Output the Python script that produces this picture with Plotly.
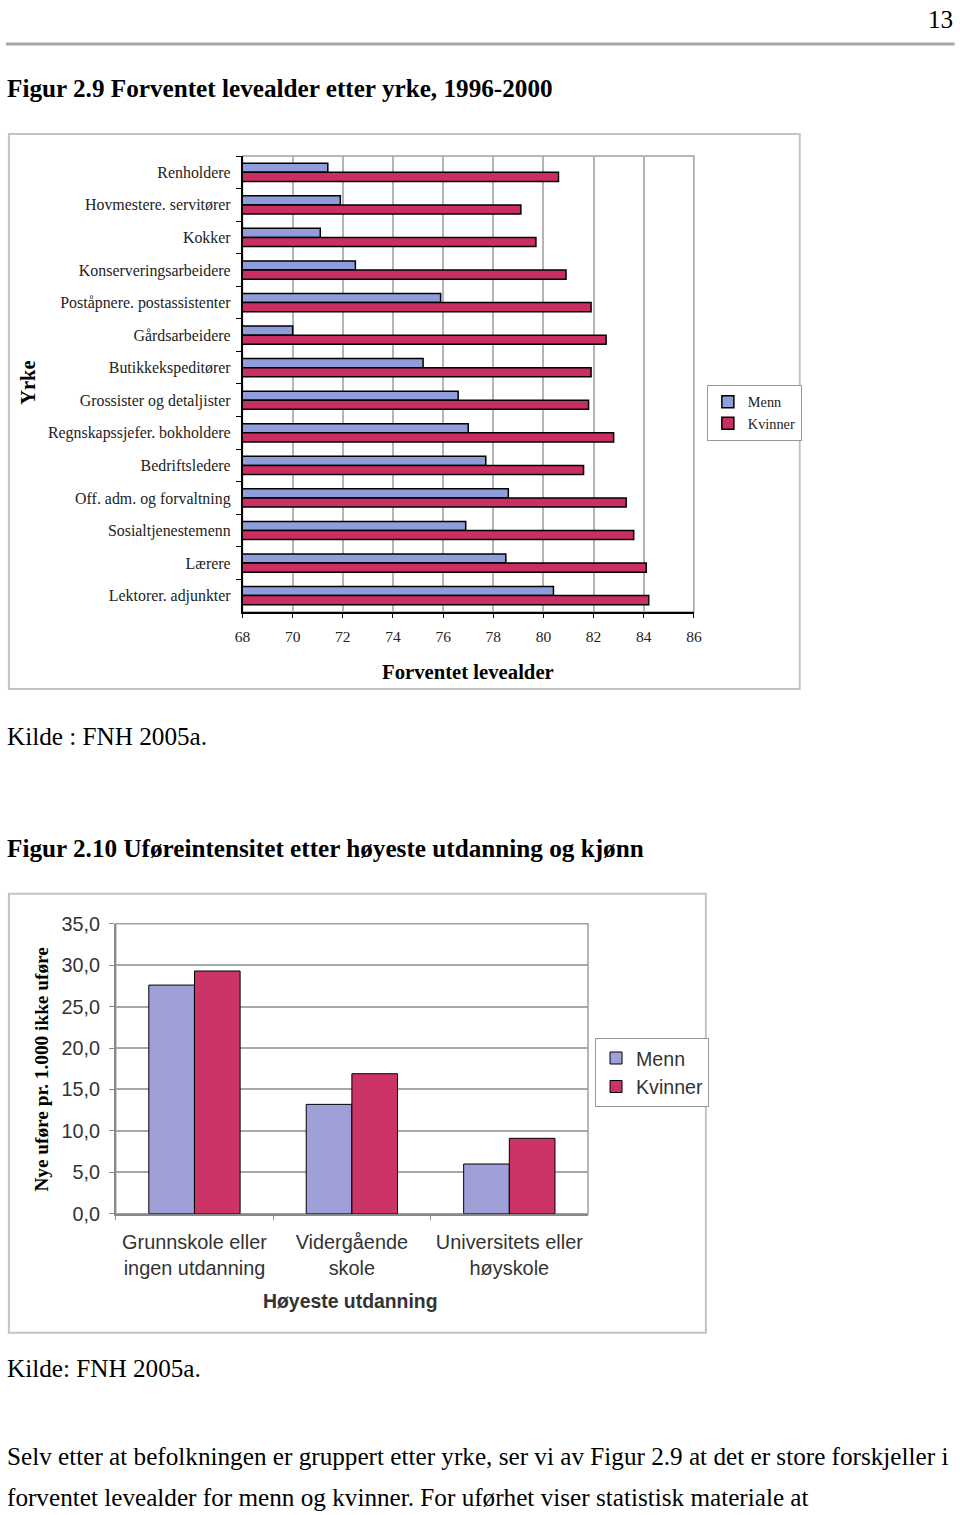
import plotly.graph_objects as go

W, H = 960, 1515

# --- Figur 2.9 data ---
yrker = [
    "Renholdere", "Hovmestere. servitører", "Kokker", "Konserveringsarbeidere",
    "Poståpnere. postassistenter", "Gårdsarbeidere", "Butikkekspeditører",
    "Grossister og detaljister", "Regnskapssjefer. bokholdere", "Bedriftsledere",
    "Off. adm. og forvaltning", "Sosialtjenestemenn", "Lærere", "Lektorer. adjunkter",
]
levealder_menn = [71.4, 71.9, 71.1, 72.5, 75.9, 70.0, 75.2, 76.6, 77.0, 77.7, 78.6, 76.9, 78.5, 80.4]
levealder_kvinner = [80.6, 79.1, 79.7, 80.9, 81.9, 82.5, 81.9, 81.8, 82.8, 81.6, 83.3, 83.6, 84.1, 84.2]

# --- Figur 2.10 data ---
utdanning = ["Grunnskole eller<br>ingen utdanning", "Vidergående<br>skole", "Universitets eller<br>høyskole"]
ufore_menn = [27.6, 13.2, 6.0]
ufore_kvinner = [29.3, 16.9, 9.1]

MENN_1, KVINNER_1 = "#8f9ddb", "#cb2e61"
MENN_2, KVINNER_2 = "#a0a0d8", "#cc3366"
SERIF = "Liberation Serif"
SANS = "Liberation Sans"

# the photographed page comes out slightly shrunk and offset; map target pixels back
AX, BX = 7.1, 0.9848
AY, BY = 9.9, 0.9858


def fx(x):
    return (x - AX) / BX


def fy(y):
    return (y - AY) / BY


def px(x):
    return fx(x) / W


def py(y):
    return 1 - fy(y) / H


fig = go.Figure()

# chart 1: horizontal bars, Menn above Kvinner
fig.add_trace(go.Bar(
    x=levealder_menn, y=yrker, orientation="h", name="Menn",
    width=0.28, offset=-0.28,
    marker=dict(color=MENN_1, line=dict(color="black", width=1.5)),
    xaxis="x", yaxis="y", legend="legend",
))
fig.add_trace(go.Bar(
    x=levealder_kvinner, y=yrker, orientation="h", name="Kvinner",
    width=0.28, offset=0.0,
    marker=dict(color=KVINNER_1, line=dict(color="black", width=1.5)),
    xaxis="x", yaxis="y", legend="legend",
))

# chart 2: vertical bars
fig.add_trace(go.Bar(
    x=utdanning, y=ufore_menn, name="Menn",
    width=0.29, offset=-0.29,
    marker=dict(color=MENN_2, line=dict(color="black", width=1)),
    xaxis="x2", yaxis="y2", legend="legend2",
))
fig.add_trace(go.Bar(
    x=utdanning, y=ufore_kvinner, name="Kvinner",
    width=0.29, offset=0.0,
    marker=dict(color=KVINNER_2, line=dict(color="black", width=1)),
    xaxis="x2", yaxis="y2", legend="legend2",
))

shapes = [
    # page rule
    dict(type="line", xref="paper", yref="paper", x0=px(5), x1=px(955), y0=py(43), y1=py(43),
         line=dict(color="#a8a8a0", width=3)),
    # chart frames
    dict(type="rect", xref="paper", yref="paper", x0=px(8), x1=px(800), y0=py(688), y1=py(133),
         line=dict(color="#c4c4c4", width=2)),
    dict(type="rect", xref="paper", yref="paper", x0=px(8), x1=px(706), y0=py(1332), y1=py(893),
         line=dict(color="#c4c4c4", width=2)),
    # plot area borders
    dict(type="rect", xref="x domain", yref="y domain", x0=0, x1=1, y0=0, y1=1,
         line=dict(color="#a0a0a0", width=1.5), layer="below"),
    dict(type="rect", xref="x2 domain", yref="y2 domain", x0=0, x1=1, y0=0, y1=1,
         line=dict(color="#a0a0a0", width=1.5), layer="below"),
]

annotations = []


def text(x, y, s, size=25.2, bold=False, family=SERIF, color="black", xanchor="left", angle=0):
    if xanchor == "left":
        xf = max(fx(x) - 3, -3)
    elif xanchor == "right":
        xf = min(fx(x) + 3, W + 3)
    else:
        xf = fx(x)
    top = size * 0.36 if angle == 0 else 0
    yf = min(max(fy(y), top), H - 7)
    annotations.append(dict(
        x=xf / W, y=1 - yf / H, xref="paper", yref="paper", showarrow=False,
        text=f"<b>{s}</b>" if bold else s, xanchor=xanchor, yanchor="middle",
        textangle=angle, font=dict(family=family, size=size, color=color),
    ))


text(955, 12, "13", xanchor="right")
text(5, 87, "Figur 2.9 Forventet levealder etter yrke, 1996-2000", bold=True)
text(5, 736, "Kilde : FNH 2005a.")
text(5, 848, "Figur 2.10 Uføreintensitet etter høyeste utdanning og kjønn", bold=True)
text(5, 1368, "Kilde: FNH 2005a.")
text(5, 1456, "Selv etter at befolkningen er gruppert etter yrke, ser vi av Figur 2.9 at det er store forskjeller i")
text(5, 1500, "forventet levealder for menn og kvinner. For uførhet viser statistisk materiale at")

# axis titles
text(468, 671, "Forventet levealder", size=20.7, bold=True, xanchor="center")
text(27, 382, "Yrke", size=20.5, bold=True, xanchor="center", angle=-90)
text(350, 1300, "Høyeste utdanning", size=19.4, bold=True, family=SANS, color="#333333", xanchor="center")
text(41, 1068, "Nye uføre pr. 1.000 ikke uføre", size=19.3, bold=True, xanchor="center", angle=-90)

fig.update_layout(
    width=W, height=H,
    margin=dict(l=0, r=0, t=0, b=0),
    paper_bgcolor="white", plot_bgcolor="white",
    separators=",.",
    barmode="overlay",
    shapes=shapes,
    annotations=annotations,
    xaxis=dict(
        domain=[px(242), px(694)], anchor="y",
        range=[68, 86], dtick=2,
        showgrid=True, gridcolor="#b4b4b4", gridwidth=1.5,
        showline=True, linecolor="black", linewidth=1.5,
        ticks="outside", ticklen=4, tickcolor="black",
        tickfont=dict(family=SERIF, size=15.5, color="#222222"),
        ticklabelstandoff=6, zeroline=False,
    ),
    yaxis=dict(
        domain=[py(611), py(155)], anchor="x",
        autorange="reversed", type="category",
        showline=True, linecolor="black", linewidth=1.5,
        ticks="outside", ticklen=5, tickson="boundaries", tickcolor="black",
        tickfont=dict(family=SERIF, size=15.9, color="#222222"),
        ticklabelstandoff=7,
    ),
    xaxis2=dict(
        domain=[px(115), px(588)], anchor="y2",
        type="category",
        showline=True, linecolor="#888888", linewidth=1.5,
        ticks="outside", ticklen=5, tickson="boundaries", tickcolor="#888888",
        tickfont=dict(family=SANS, size=19.9, color="#333333"),
        ticklabelstandoff=10,
    ),
    yaxis2=dict(
        domain=[py(1213), py(923)], anchor="x2",
        range=[0, 35], dtick=5, tickformat=".1f",
        showgrid=True, gridcolor="#a8a8a8", gridwidth=1.5,
        showline=True, linecolor="#888888", linewidth=1.5,
        ticks="outside", ticklen=5, tickcolor="#888888",
        tickfont=dict(family=SANS, size=19.8, color="#333333"),
        ticklabelstandoff=5, zeroline=False,
    ),
    legend=dict(
        x=px(707), y=py(384), xanchor="left", yanchor="top",
        bordercolor="#999999", borderwidth=1, bgcolor="white",
        font=dict(family=SERIF, size=14.3, color="#222222"),
        itemwidth=30, tracegroupgap=0,
    ),
    legend2=dict(
        x=px(595), y=py(1037), xanchor="left", yanchor="top",
        bordercolor="#999999", borderwidth=1, bgcolor="white",
        font=dict(family=SANS, size=19.6, color="#333333"),
        itemwidth=30, tracegroupgap=0,
    ),
)

fig.write_html(
    "out.html",
    config={"displayModeBar": False},
    post_script="document.documentElement.style.margin='0';document.documentElement.style.overflow='hidden';"
                "document.body.style.margin='0';document.body.style.padding='0';document.body.style.overflow='hidden';",
)
